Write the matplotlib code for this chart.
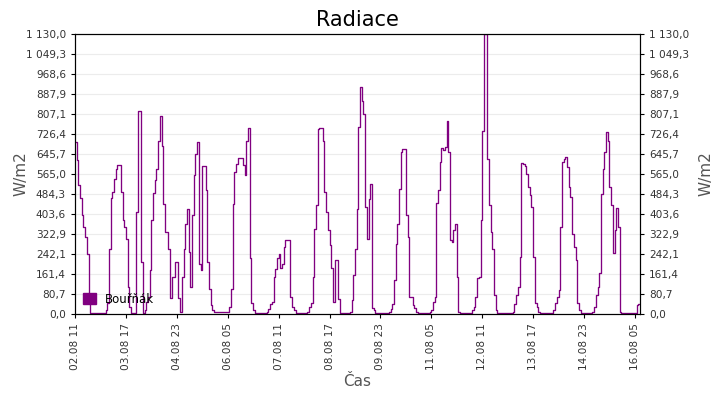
import numpy as np
import pandas as pd
import matplotlib
matplotlib.use("Agg")
import matplotlib.pyplot as plt
import matplotlib.dates as mdates
from matplotlib.patches import Patch
from matplotlib.ticker import FuncFormatter

# hourly radiation, W/m2, from 02.08 11:00
radiace = [
    693, 620, 520, 470, 400, 350, 310, 244, 60, 5,
    3, 3, 3, 3, 3, 3, 3, 5, 15, 45,
    264, 468, 492, 546, 586, 602, 602, 492, 378, 351,
    304, 110, 30, 5, 5, 5, 410, 818, 818, 210,
    5, 15, 50, 70, 177, 378, 488, 539, 586, 700,
    800, 680, 445, 331, 331, 264, 63, 150, 150, 210,
    210, 63, 9, 150, 264, 365, 425, 250, 110, 400,
    559, 646, 693, 200, 177, 599, 599, 499, 210, 100,
    36, 16, 9, 9, 9, 9, 9, 9, 9, 9,
    9, 30, 100, 445, 573, 606, 630, 630, 630, 600,
    560, 700, 751, 224, 43, 16, 5, 5, 5, 5,
    5, 5, 5, 10, 20, 40, 50, 150, 180, 224,
    241, 184, 200, 271, 300, 300, 300, 70, 30, 16,
    5, 5, 5, 5, 5, 5, 5, 10, 30, 45,
    150, 342, 438, 747, 750, 750, 700, 492, 412, 338,
    278, 184, 50, 217, 217, 60, 5, 5, 5, 5,
    5, 5, 10, 56, 157, 264, 422, 754, 917, 861,
    807, 432, 304, 465, 523, 23, 16, 5, 5, 5,
    5, 5, 5, 5, 5, 10, 20, 40, 137, 284,
    365, 506, 653, 667, 667, 400, 311, 70, 70, 36,
    25, 10, 5, 5, 5, 5, 5, 5, 5, 10,
    15, 50, 70, 446, 499, 613, 671, 660, 673, 780,
    653, 300, 291, 340, 365, 150, 9, 5, 5, 5,
    5, 5, 5, 5, 15, 30, 70, 147, 150, 378,
    740, 1129, 1129, 626, 440, 331, 264, 76, 16, 5,
    5, 5, 5, 5, 5, 5, 5, 5, 10, 40,
    76, 107, 231, 610, 606, 599, 566, 512, 479, 432,
    231, 43, 30, 10, 5, 5, 5, 5, 5, 5,
    5, 5, 15, 43, 70, 97, 351, 613, 626, 633,
    593, 512, 472, 324, 271, 217, 43, 16, 5, 5,
    5, 5, 5, 5, 5, 10, 30, 76, 110, 164,
    486, 586, 653, 733, 700, 512, 438, 247, 338, 429,
    350, 10, 5, 5, 5, 5, 5, 5, 5, 5,
    5, 36, 40, 40,
]
start = "2023-08-02 11:00"
cas = pd.date_range(start, periods=len(radiace), freq="h")
x_ticks = pd.date_range(start, periods=12, freq="30h")
y_max = 1130.0
y_ticks = np.linspace(0, y_max, 15)

purple = "#800080"
grey = "#555555"

def cz(v, pos=None):
    return f"{v:,.1f}".replace(",", " ").replace(".", ",")

plt.rcParams["font.family"] = ["DejaVu Sans"]
fig = plt.figure(figsize=(7.2, 4.0), dpi=100)
ax = fig.add_axes([75 / 720, 86 / 400, 565 / 720, 280 / 400])

ax.plot(cas, radiace, color=purple, lw=0.95, drawstyle="steps-post")
ax.set_xlim(cas[0], cas[-1])
ax.set_ylim(0, y_max)
ax.set_yticks(y_ticks)
ax.yaxis.set_major_formatter(FuncFormatter(cz))
ax.grid(axis="y", color="#ececec", lw=0.8)
ax.set_axisbelow(True)

ax.set_xticks(x_ticks)
ax.xaxis.set_major_formatter(mdates.DateFormatter("%d.%m %H"))
for lab in ax.get_xticklabels():
    lab.set_rotation(90)

ax.tick_params(axis="both", labelsize=7.6, colors="black", labelcolor="#333333", length=3)

ax2 = ax.twinx()
ax2.set_ylim(0, y_max)
ax2.set_yticks(y_ticks)
ax2.yaxis.set_major_formatter(FuncFormatter(cz))
ax2.tick_params(axis="y", labelsize=7.6, colors="black", labelcolor="#333333", length=3)

ax.set_ylabel("W/m2", fontsize=11, color=grey)
ax2.set_ylabel("W/m2", fontsize=11, color=grey)
ax.yaxis.set_label_coords(-0.083, 0.5)
ax2.yaxis.set_label_coords(1.103, 0.5)
ax.set_xlabel("Čas", fontsize=11, color=grey, labelpad=3)
ax.set_title("Radiace", fontsize=15, pad=6)

ax.legend(handles=[Patch(facecolor=purple, edgecolor=purple, label="Bouřňák")],
          loc="lower left", frameon=False, fontsize=8.5, handlelength=1.1,
          handleheight=1.1, handletextpad=0.7, borderaxespad=0.3)

fig.savefig("out.png", dpi=100)
